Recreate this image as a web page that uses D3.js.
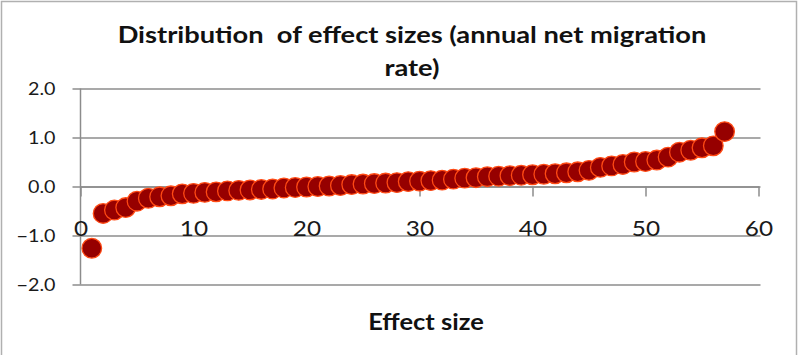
<!DOCTYPE html>
<html>
<head>
<meta charset="utf-8">
<script src="https://cdn.jsdelivr.net/npm/d3@7"></script>
<style>
  html, body { margin: 0; padding: 0; background: #fff; }
  svg { display: block; }
  .title { white-space: pre; }
</style>
</head>
<body>
<div id="chart"></div>
<script>
// ---- data ----
const titleLines = ["Distribution  of effect sizes (annual net migration", "rate)"];
const xAxisTitle = "Effect size";
const xTicks = [0, 10, 20, 30, 40, 50, 60];
const yTicks = [-2.0, -1.0, 0.0, 1.0, 2.0];
const effectIndex = d3.range(1, 58);
const effectValues = [
  -1.26, -0.55, -0.48, -0.43, -0.30, -0.24, -0.21, -0.19, -0.15, -0.14,
  -0.12, -0.11, -0.09, -0.08, -0.07, -0.06, -0.05, -0.03, -0.02, -0.01,
   0.00,  0.01,  0.02,  0.04,  0.05,  0.06,  0.07,  0.08,  0.10,  0.11,
   0.12,  0.13,  0.15,  0.17,  0.18,  0.20,  0.21,  0.22,  0.23,  0.24,
   0.25,  0.26,  0.28,  0.30,  0.33,  0.39,  0.42,  0.45,  0.50,  0.51,
   0.54,  0.60,  0.70,  0.74,  0.79,  0.83,  1.12
];

// ---- layout ----
const W = 799, H = 355;
const SX = 1.16; // horizontal text stretch
const stretch = (ax, ay) => `translate(${ax},${ay}) scale(${SX},1) translate(${-ax},${-ay})`;

const svg = d3.select("#chart").append("svg").attr("width", W).attr("height", H);

svg.append("rect").attr("x", 1.5).attr("y", 1.5).attr("width", 795).attr("height", 360)
  .attr("fill", "#fff").attr("stroke", "#b0b0b0").attr("stroke-width", 1.5);

const x = d3.scaleLinear().domain([0, 60]).range([80.5, 758.5]);
const y = d3.scaleLinear().domain([-2, 2]).range([284.5, 88.5]);

const font = "Lato, 'Open Sans', sans-serif";
const gridColor = "#8c8c8c";

// horizontal gridlines via y-axis
const yAxis = d3.axisLeft(y).tickValues(yTicks).tickSize(-(x.range()[1] - x.range()[0] + 2)).tickPadding(0)
  .tickFormat(d3.format(".1f"));
const gy = svg.append("g").attr("transform", `translate(${x(0)},0)`).call(yAxis);
gy.select(".domain").remove();
gy.selectAll(".tick line").attr("stroke", gridColor).attr("stroke-width", 1.5)
  .attr("x1", -8);
gy.selectAll(".tick text").attr("x", -25).attr("text-anchor", "end").attr("dy", "0.35em")
  .attr("transform", stretch(-25, 0))
  .attr("font-family", font).attr("font-size", 17).attr("fill", "#1a1a1a");

// vertical y axis line
svg.append("line").attr("x1", x(0)).attr("x2", x(0)).attr("y1", y(2)).attr("y2", y(-2))
  .attr("stroke", gridColor).attr("stroke-width", 1.5);

// x axis at y=0
const xAxis = d3.axisBottom(x).tickValues(xTicks).tickSize(10).tickSizeOuter(0).tickFormat(d3.format("d"));
const gx = svg.append("g").attr("transform", `translate(0,${y(0)})`).call(xAxis);
gx.select(".domain").attr("stroke", gridColor).attr("stroke-width", 1.5);
gx.selectAll(".tick line").attr("stroke", gridColor).attr("stroke-width", 1.5);
gx.selectAll(".tick text").attr("y", 50).attr("dy", 0)
  .attr("transform", stretch(0, 0))
  .attr("font-family", font).attr("font-size", 21).attr("fill", "#1a1a1a");

// points
svg.append("g").selectAll("circle")
  .data(effectValues.map((v, i) => ({ i: effectIndex[i], v })))
  .join("circle")
  .attr("cx", d => x(d.i)).attr("cy", d => y(d.v)).attr("r", 9.8)
  .attr("fill", "#960000").attr("stroke", "#ff4a14").attr("stroke-width", 1.3);

// title
const title = svg.append("text").attr("class", "title").attr("text-anchor", "middle")
  .attr("transform", stretch(412, 0))
  .attr("font-family", font).attr("font-weight", "bold").attr("font-size", 23.5).attr("fill", "#111");
titleLines.forEach((t, i) => {
  title.append("tspan").attr("x", 412).attr("y", 43 + i * 33).text(t);
});

// x axis title
svg.append("text").attr("x", 426).attr("y", 330).attr("text-anchor", "middle")
  .attr("transform", stretch(426, 0))
  .attr("font-family", font).attr("font-weight", "bold").attr("font-size", 22).attr("fill", "#111")
  .text(xAxisTitle);
</script>
</body>
</html>
